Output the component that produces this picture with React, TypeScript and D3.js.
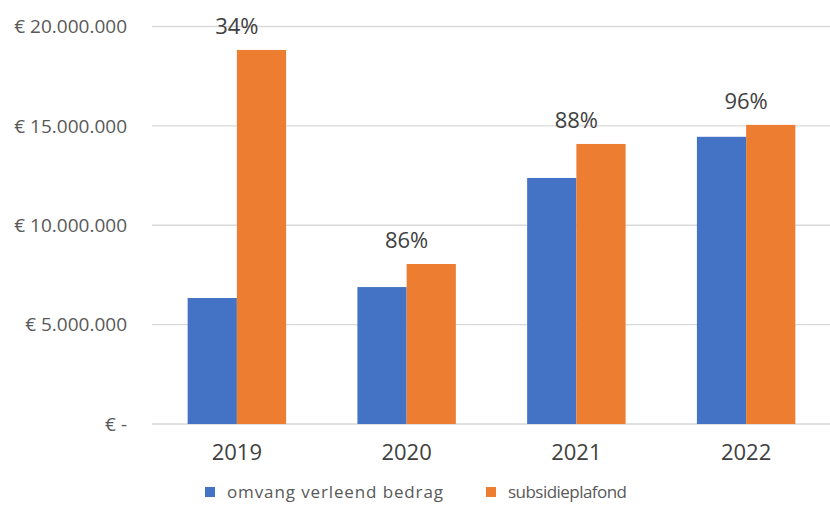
import React from "react";
import * as d3 from "d3";

const years = ["2019", "2020", "2021", "2022"];
const verleend = [6340000, 6890000, 12380000, 14450000];
const plafond = [18820000, 8050000, 14090000, 15050000];
const percentLabels = ["34%", "86%", "88%", "96%"];
const yTicks = [0, 5000000, 10000000, 15000000, 20000000];
const seriesNames = ["omvang verleend bedrag", "subsidieplafond"];
const colors = ["#4472C4", "#ED7D31"];

const W = 830;
const H = 510;
const FONT = "'Open Sans', 'Liberation Sans', sans-serif";

const fmt = (v: number) =>
  v === 0 ? "€ -" : "€ " + d3.format(",")(v).replace(/,/g, ".");

export default function App() {
  const x = d3.scaleBand().domain(years).range([152, 831]).paddingInner(0.42).paddingOuter(0.21);
  const y = d3.scaleLinear().domain([0, 20000000]).range([424, 26.5]);
  const inner = d3.scaleBand().domain(["0", "1"]).range([0, x.bandwidth()]);
  const legendX = [205, 486];
  const legendLen = [216, 119];

  return (
    <svg width={W} height={H} style={{ position: "absolute", left: 0, top: 0, background: "#fff" }}>
      {yTicks.map((t) => (
        <g key={t}>
          <line x1={152} x2={831} y1={y(t)} y2={y(t)} stroke="#d9d9d9" strokeWidth={1.3} />
          <text x={127} y={y(t)} dy="0.35em" textAnchor="end" fontFamily={FONT} fontSize={19} fill="#595959">
            {fmt(t)}
          </text>
        </g>
      ))}
      {years.map((yr, i) => {
        const x0 = x(yr)!;
        const cx = x0 + x.bandwidth() / 2;
        return (
          <g key={yr}>
            <rect x={x0 + inner("0")!} y={y(verleend[i])} width={inner.bandwidth()} height={y(0) - y(verleend[i])} fill={colors[0]} />
            <rect x={x0 + inner("1")!} y={y(plafond[i])} width={inner.bandwidth()} height={y(0) - y(plafond[i])} fill={colors[1]} />
            <text x={cx} y={y(plafond[i]) - 16} textAnchor="middle" fontFamily={FONT} fontSize={22} fill="#404040">
              {percentLabels[i]}
            </text>
            <text x={cx} y={452} dy="0.35em" textAnchor="middle" fontFamily={FONT} fontSize={22} fill="#404040">
              {yr}
            </text>
          </g>
        );
      })}
      {seriesNames.map((n, i) => {
        const lx = legendX[i];
        return (
          <g key={n}>
            <rect x={lx} y={487} width={10} height={10} fill={colors[i]} />
            <text x={lx + 22} y={492} dy="0.35em" fontFamily={FONT} fontSize={17} fill="#595959"
              textLength={legendLen[i]} lengthAdjust="spacing">
              {n}
            </text>
          </g>
        );
      })}
    </svg>
  );
}
